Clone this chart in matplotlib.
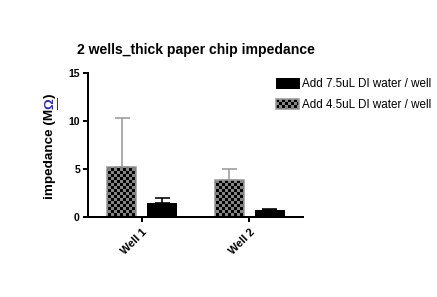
import numpy as np
import matplotlib
matplotlib.use("Agg")
import matplotlib.pyplot as plt
import matplotlib.hatch as mhatch
from matplotlib.path import Path
from matplotlib.lines import Line2D

# ---------------- data ----------------
categories = ["Well 1", "Well 2"]
series_labels = ["Add 7.5uL DI water / well", "Add 4.5uL DI water / well"]
mean_7_5 = [1.45, 0.72]
err_7_5 = [0.55, 0.16]
mean_4_5 = [5.2, 3.85]
err_4_5 = [5.15, 1.2]
y_ticks = [0, 5, 10, 15]
title = "2 wells_thick paper chip impedance"

# ---------------- checkerboard hatch ----------------
DPI = 102
N_CHECK = 34  # squares per hatch cell (cell = DPI px) -> 3 px squares


class CheckerHatch(mhatch.HatchPatternBase):
    def __init__(self, hatch, density):
        self.n = N_CHECK if "x" in hatch else 0
        self.num_vertices = (self.n * self.n // 2) * 5 if self.n else 0

    def set_vertices_and_codes(self, vertices, codes):
        n = self.n
        s = 1.0 / n
        k = 0
        for i in range(n):
            for j in range(n):
                if (i + j) % 2 == 0:
                    x0, y0 = i * s, j * s
                    vertices[k:k + 5] = [(x0, y0), (x0 + s, y0), (x0 + s, y0 + s),
                                         (x0, y0 + s), (x0, y0)]
                    codes[k:k + 5] = [Path.MOVETO, Path.LINETO, Path.LINETO,
                                      Path.LINETO, Path.CLOSEPOLY]
                    k += 5


mhatch._hatch_types = [CheckerHatch]
plt.rcParams["hatch.linewidth"] = 0.0
plt.rcParams["font.family"] = ["Liberation Sans", "DejaVu Sans"]


def pt(px):
    return px * 72.0 / DPI


W, H = 437, 297
fig = plt.figure(figsize=(W / DPI, H / DPI), dpi=DPI)
ax = fig.add_axes([88 / W, 1 - 217 / H, (303 - 88) / W, (217 - 73) / H])

x = np.arange(len(categories))
off = 0.187
bw = 0.27
GRAY_EDGE = "#9a9a9a"

# error bars (drawn below bars so only the upper part shows)
ax.errorbar(x - off, mean_4_5, yerr=[np.zeros(len(x)), err_4_5], fmt="none",
            ecolor=GRAY_EDGE, elinewidth=pt(1.6), capsize=pt(7.5),
            capthick=pt(1.6), zorder=1)
ax.errorbar(x + off, mean_7_5, yerr=[np.zeros(len(x)), err_7_5], fmt="none",
            ecolor="black", elinewidth=pt(1.6), capsize=pt(7.5),
            capthick=pt(1.6), zorder=1)

bars_45 = ax.bar(x - off, mean_4_5, width=bw, color="#858585",
                 edgecolor=GRAY_EDGE, linewidth=pt(1.6), hatch="x", zorder=2)
for p in bars_45:
    p._hatch_color = (0, 0, 0, 1)
bars_75 = ax.bar(x + off, mean_7_5, width=bw, color="black",
                 edgecolor="black", linewidth=pt(1.0), zorder=2)

ax.set_xlim(-0.5, 1.5)
ax.set_ylim(0, 15)
ax.set_yticks(y_ticks)
ax.set_yticklabels([str(t) for t in y_ticks], fontsize=pt(10.5), fontweight="bold")
ax.set_xticks(x)
ax.set_xticklabels(categories, rotation=45, ha="right", rotation_mode="anchor",
                   fontsize=pt(11), fontweight="bold")

for s in ["top", "right"]:
    ax.spines[s].set_visible(False)
for s in ["left", "bottom"]:
    ax.spines[s].set_linewidth(pt(2))
    ax.spines[s].set_zorder(3)
ax.tick_params(axis="both", direction="out", length=pt(5), width=pt(2),
               pad=pt(3))
ax.tick_params(axis="x", pad=pt(5))

# title
fig.text(196 / W, 1 - 50 / H, title, ha="center", va="center",
         fontsize=pt(14), fontweight="bold")

# y label with blue underlined Omega
LBL = pt(13.5)
t1 = fig.text(50 / W, 1 - 199 / H, "impedance (M", rotation=90, ha="center",
              va="bottom", fontsize=LBL, fontweight="bold")
t2 = ax.annotate("\u03a9", xy=(0.5, 1.0), xycoords=t1,
                 rotation=90, ha="center", va="bottom", fontsize=LBL,
                 fontweight="bold", color="#2a2ab8", annotation_clip=False)
t3 = ax.annotate(")", xy=(0.5, 1.0), xycoords=t2, rotation=90, ha="center",
                 va="bottom", fontsize=LBL, fontweight="bold",
                 annotation_clip=False)

leg = fig.legend([bars_75[0], bars_45[0]], series_labels, loc="upper left",
                 bbox_to_anchor=(276 / W, 1 - 78 / H), frameon=False,
                 fontsize=pt(11.6), handlelength=2.0, handleheight=1.0,
                 handletextpad=0.25, labelspacing=0.72, borderpad=0,
                 borderaxespad=0)

# underline for the Omega (right side of rotated glyph)
fig.canvas.draw()
bb = t2.get_window_extent(fig.canvas.get_renderer())
ux = (bb.x1 + 0.5) / W
fig.add_artist(Line2D([ux, ux], [bb.y0 / H, bb.y1 / H], transform=fig.transFigure,
                      color="#2a2ab8", linewidth=pt(1.0)))

fig.savefig("out.png", dpi=DPI)
